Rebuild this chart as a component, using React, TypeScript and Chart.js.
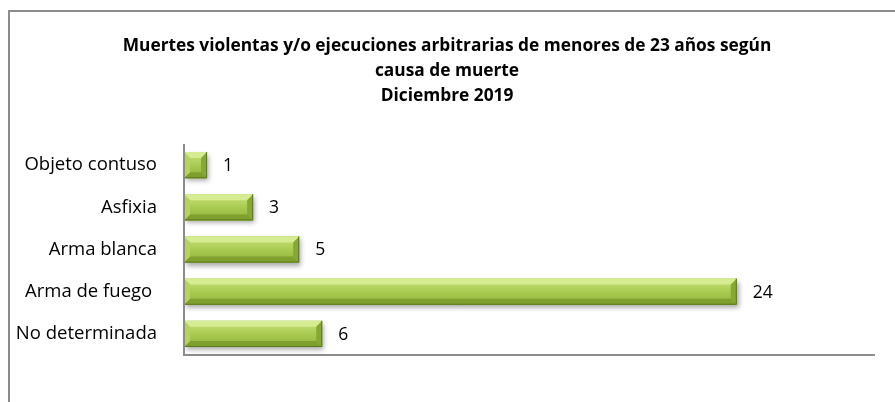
import React, { useEffect, useRef } from "react";
import { Chart, registerables } from "chart.js";

Chart.register(...registerables);

const categories = ["Objeto contuso", "Asfixia", "Arma blanca", "Arma de fuego ", "No determinada"];
const values = [1, 3, 5, 24, 6];
const titleLines = [
  "Muertes violentas y/o ejecuciones arbitrarias de menores de 23 años según",
  "causa de muerte",
  "Diciembre 2019",
];
const xMax = 30;

const FONT = "'Open Sans', Lato, sans-serif";

const framePlugin = {
  id: "frame",
  beforeDraw(chart: any) {
    const ctx = chart.ctx;
    ctx.save();
    ctx.fillStyle = "#fff";
    ctx.fillRect(0, 0, chart.width, chart.height);
    ctx.strokeStyle = "#8c8c8c";
    ctx.lineWidth = 2;
    ctx.beginPath();
    ctx.moveTo(9, chart.height + 5);
    ctx.lineTo(9, 11);
    ctx.lineTo(chart.width + 5, 11);
    ctx.stroke();
    ctx.restore();
  },
};

const titlePlugin = {
  id: "customTitle",
  afterDraw(chart: any) {
    const ctx = chart.ctx;
    ctx.save();
    ctx.fillStyle = "#000";
    ctx.textAlign = "center";
    ctx.textBaseline = "middle";
    ctx.font = `bold 100px ${FONT}`;
    const w = ctx.measureText(titleLines[0]).width;
    const size = Math.min(19, (649 / w) * 100);
    ctx.font = `bold ${size}px ${FONT}`;
    const ys = [46, 71, 96];
    titleLines.forEach((t, i) => ctx.fillText(t, 447, ys[i]));
    ctx.restore();
  },
};

const axisPlugin = {
  id: "axisLines",
  afterDraw(chart: any) {
    const ctx = chart.ctx;
    const a = chart.chartArea;
    const xs = chart.scales.x;
    const x0 = xs.getPixelForValue(0);
    const x1 = xs.getPixelForValue(xMax);
    ctx.save();
    ctx.strokeStyle = "#8c8c8c";
    ctx.lineWidth = 2;
    ctx.beginPath();
    ctx.moveTo(x0, a.top);
    ctx.lineTo(x0, a.bottom);
    ctx.lineTo(x1, a.bottom);
    ctx.stroke();
    ctx.restore();
  },
};

const bevelPlugin = {
  id: "bevel",
  beforeDatasetsDraw(chart: any) {
    const ctx = chart.ctx;
    const meta = chart.getDatasetMeta(0);
    ctx.save();
    meta.data.forEach((bar: any) => {
      const { x, y, base, height } = bar.getProps(["x", "y", "base", "height"], true);
      const top = y - height / 2;
      ctx.shadowColor = "rgba(0,0,0,0.35)";
      ctx.shadowBlur = 5;
      ctx.shadowOffsetX = 2;
      ctx.shadowOffsetY = 3;
      ctx.fillStyle = "#9dbd45";
      ctx.fillRect(base, top, x - base, height);
    });
    ctx.restore();
  },
  afterDatasetsDraw(chart: any) {
    const ctx = chart.ctx;
    const meta = chart.getDatasetMeta(0);
    ctx.save();
    meta.data.forEach((bar: any, i: number) => {
      const { x, y, base, height } = bar.getProps(["x", "y", "base", "height"], true);
      const top = y - height / 2;
      const bot = y + height / 2;
      const left = base;
      const right = x;
      const b = Math.min(6, (right - left) / 2);
      const g = ctx.createLinearGradient(0, top, 0, bot);
      g.addColorStop(0, "#c9e27a");
      g.addColorStop(0.5, "#aacb52");
      g.addColorStop(1, "#8fb23a");
      ctx.fillStyle = g;
      ctx.fillRect(left, top, right - left, height);
      ctx.fillStyle = "#d6ec93";
      ctx.beginPath();
      ctx.moveTo(left, top);
      ctx.lineTo(right, top);
      ctx.lineTo(right - b, top + b);
      ctx.lineTo(left + b, top + b);
      ctx.closePath();
      ctx.fill();
      ctx.fillStyle = "#7f9f2e";
      ctx.beginPath();
      ctx.moveTo(left, bot);
      ctx.lineTo(right, bot);
      ctx.lineTo(right - b, bot - b);
      ctx.lineTo(left + b, bot - b);
      ctx.closePath();
      ctx.fill();
      ctx.fillStyle = "#b5d35e";
      ctx.beginPath();
      ctx.moveTo(left, top);
      ctx.lineTo(left + b, top + b);
      ctx.lineTo(left + b, bot - b);
      ctx.lineTo(left, bot);
      ctx.closePath();
      ctx.fill();
      ctx.fillStyle = "#86a935";
      ctx.beginPath();
      ctx.moveTo(right, top);
      ctx.lineTo(right - b, top + b);
      ctx.lineTo(right - b, bot - b);
      ctx.lineTo(right, bot);
      ctx.closePath();
      ctx.fill();
      ctx.strokeStyle = "#5e7a1c";
      ctx.lineWidth = 1;
      ctx.beginPath();
      ctx.moveTo(left, bot - 0.5);
      ctx.lineTo(right - 0.5, bot - 0.5);
      ctx.lineTo(right - 0.5, top);
      ctx.stroke();
      ctx.fillStyle = "#000";
      ctx.font = `17.5px ${FONT}`;
      ctx.textAlign = "left";
      ctx.textBaseline = "middle";
      ctx.fillText(String(values[i]), right + 16, y + 1);
    });
    ctx.restore();
  },
};

export default function App() {
  const ref = useRef<HTMLCanvasElement>(null);
  useEffect(() => {
    if (!ref.current) return;
    const chart = new Chart(ref.current, {
      type: "bar",
      data: {
        labels: categories,
        datasets: [
          {
            data: values,
            backgroundColor: "rgba(0,0,0,0)",
            borderWidth: 0,
            barPercentage: 0.62,
            categoryPercentage: 1,
          },
        ],
      },
      options: {
        indexAxis: "y",
        animation: false,
        responsive: false,
        maintainAspectRatio: false,
        layout: { padding: { top: 144, bottom: 47, left: 0, right: 20 } },
        plugins: { legend: { display: false }, tooltip: { enabled: false }, title: { display: false } },
        scales: {
          x: {
            min: 0,
            max: xMax,
            ticks: { display: false },
            grid: { display: false },
            border: { display: false },
            afterFit: (s: any) => {
              s.height = 0;
            },
          },
          y: {
            ticks: { color: "#000", font: { family: FONT, size: 18.5 }, padding: 19 },
            grid: { display: false },
            border: { display: false },
            afterFit: (s: any) => {
              s.width = 184;
            },
          },
        },
      },
      plugins: [framePlugin, bevelPlugin, axisPlugin, titlePlugin],
    });
    return () => chart.destroy();
  }, []);
  return (
    <div style={{ position: "fixed", left: 0, top: 0, width: 895, height: 402, background: "#fff" }}>
      <canvas ref={ref} width={895} height={402} style={{ position: "absolute", left: 0, top: 0 }} />
    </div>
  );
}
